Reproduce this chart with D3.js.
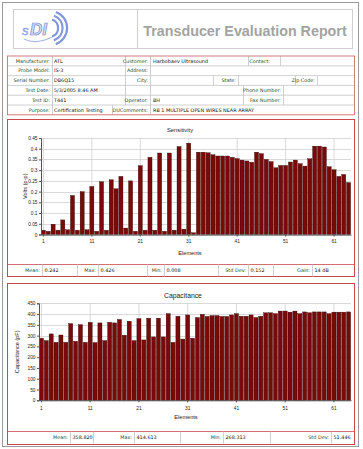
<!DOCTYPE html>
<html>
<head>
<meta charset="utf-8">
<script src="https://cdn.jsdelivr.net/npm/d3@7"></script>
<style>
body { margin: 0; background: #fff; }
svg { display: block; }
</style>
</head>
<body>
<svg id="page" width="363" height="449"></svg>
<script>
// ---- data ----
var elements = d3.range(1, 65);
var sensitivity = [0.020, 0.015, 0.048, 0.020, 0.068, 0.022, 0.182, 0.020, 0.200, 0.022,
    0.224, 0.015, 0.246, 0.020, 0.255, 0.213, 0.271, 0.030, 0.250, 0.015,
    0.321, 0.020, 0.360, 0.020, 0.380, 0.015, 0.380, 0.020, 0.410, 0.025,
    0.426, 0.008, 0.384, 0.384, 0.381, 0.372, 0.366, 0.366, 0.366, 0.360,
    0.354, 0.347, 0.343, 0.337, 0.384, 0.377, 0.350, 0.340, 0.311, 0.322,
    0.322, 0.338, 0.347, 0.330, 0.319, 0.353, 0.412, 0.412, 0.408, 0.316,
    0.302, 0.271, 0.280, 0.242];
var capacitance = [288, 277, 308, 269, 303, 269, 356, 274, 351, 269,
    362, 268, 359, 277, 362, 359, 375, 302, 367, 277,
    379, 280, 381, 294, 381, 294, 402, 269, 390, 284,
    396, 288, 384, 399, 389, 393, 393, 389, 389, 396,
    402, 390, 390, 396, 384, 390, 406, 406, 402, 414,
    414, 409, 414, 402, 410, 406, 410, 410, 410, 402,
    409, 409, 409, 410];
var sensTicks = [0, 0.05, 0.1, 0.15, 0.2, 0.25, 0.3, 0.35, 0.4, 0.45];
var capTicks = [0, 50, 100, 150, 200, 250, 300, 350, 400, 450];
var elementTicks = [1, 11, 21, 31, 41, 51, 61];

var infoLabels = ["Manufacturer:", "Customer:", "Contact:", "Probe Model:", "Address:",
    "Serial Number:", "City:", "State:", "Zip Code:", "Test Date:", "Phone Number:",
    "Test ID:", "Operator:", "Fax Number:", "Purpose:", "DUComments:"];
var infoValues = ["ATL", "Harbobaev Ultrasound", "", "IS-3", "", "DB6Q15", "", "", "",
    "5/3/2005 8:46 AM", "", "T441", "BH", "", "Certification Testing",
    "RB 1 MULTIPLE OPEN WIRES NEAR ARRAY"];

var sensStatLabels = ["Mean:", "Max:", "Min:", "Std Dev:", "Gain:"];
var sensStatValues = ["0.242", "0.426", "0.008", "0.152", "14 dB"];
var capStatLabels = ["Mean:", "Max:", "Min:", "Std Dev:"];
var capStatValues = ["358.820", "414.613", "268.313", "51.446"];

// ---- drawing ----
var svg = d3.select("#page");
var RED = "#c9474d", GRID = "#cfcfcf", CELL = "#c4c4c4", LABEL = "#24502a";
var FONT = "Liberation Sans, Arial, sans-serif";
var FORM = "DejaVu Sans, Verdana, sans-serif";

// page frame
svg.append("rect").attr("x", 2.5).attr("y", 2.5).attr("width", 356).attr("height", 444)
    .style("fill", "none").style("stroke", "#9a9a9a");

// header box with logo and title
svg.append("rect").attr("x", 13.5).attr("y", 9.5).attr("width", 339).attr("height", 39)
    .style("fill", "none").style("stroke", "#d0d0d0");
svg.append("line").attr("x1", 137.5).attr("x2", 137.5).attr("y1", 9.5).attr("y2", 48.5)
    .style("stroke", "#d0d0d0");
var logo = svg.append("g").attr("transform", "translate(22,13)");
logo.append("text").attr("x", 0).attr("y", 22).text("s")
    .style("font", "italic 13px " + FONT).style("fill", "#c5cff0").style("stroke", "#7f93d6").style("stroke-width", 0.5);
logo.append("text").attr("x", 8).attr("y", 22).text("DI")
    .style("font", "italic bold 17px " + FONT).style("fill", "#d6ddf5").style("stroke", "#6f86cf").style("stroke-width", 0.7);
[0, 1, 2].forEach(function (i) {
    var r = 8 + i * 4;
    logo.append("path")
        .attr("d", d3.arc()({innerRadius: r, outerRadius: r + 2.2, startAngle: 0.35, endAngle: 2.8}))
        .attr("transform", "translate(" + (27 + i * 0.5) + ",15)")
        .style("fill", "#8298dc");
});
logo.append("path").attr("d", "M2,26 Q14,32 30,24").style("fill", "none")
    .style("stroke", "#a9b7e6").style("stroke-width", 1.2);
svg.append("text").attr("x", 245).attr("y", 35.5).attr("text-anchor", "middle")
    .text("Transducer Evaluation Report")
    .style("font", "bold 14.3px " + FONT).style("fill", "#a3a3a3");

// info table
var tTop = 56, rowH = 9.8, tLeft = 7.5, tRight = 354.5;
// per row: dividers, then [field, labelEnd, valueStart]
var infoLayout = [
    {div: [52, 125, 150, 248, 280], cells: [[0, 50, 54], [1, 148, 153], [2, 270, 283]]},
    {div: [52, 125, 150], cells: [[3, 50, 54], [4, 148, 153]]},
    {div: [52, 125, 150, 213, 238, 295, 317], cells: [[5, 50, 54], [6, 148, 153], [7, 236, 240], [8, 315, 319]]},
    {div: [52, 125, 150, 243, 283], cells: [[9, 50, 54], [10, 281, 285]]},
    {div: [52, 125, 150, 243, 283], cells: [[11, 50, 54], [12, 148, 153], [13, 281, 285]]},
    {div: [52, 112, 150], cells: [[14, 50, 54], [15, 148, 153]]}
];
var table = svg.append("g").attr("class", "info");
infoLayout.forEach(function (row, r) {
    var y0 = tTop + r * rowH;
    row.div.forEach(function (x) {
        table.append("line").attr("x1", x + 0.5).attr("x2", x + 0.5).attr("y1", y0).attr("y2", y0 + rowH)
            .style("stroke", CELL).style("stroke-width", 0.8);
    });
    if (r > 0) table.append("line").attr("x1", tLeft).attr("x2", tRight).attr("y1", y0).attr("y2", y0)
        .style("stroke", CELL).style("stroke-width", 0.8);
    row.cells.forEach(function (c) {
        table.append("text").attr("x", c[1]).attr("y", y0 + 6.6).attr("text-anchor", "end")
            .text(infoLabels[c[0]]).style("font", "4.9px " + FORM).style("fill", LABEL);
        table.append("text").attr("x", c[2]).attr("y", y0 + 6.6)
            .text(infoValues[c[0]]).style("font", "4.9px " + FORM).style("fill", "#111");
    });
});
table.append("rect").attr("x", tLeft).attr("y", tTop).attr("width", tRight - tLeft).attr("height", rowH * 6)
    .style("fill", "none").style("stroke", "#d77a80").style("stroke-width", 1);

// stats row under a chart
function statsRow(y0, h, labels, values, cells) {
    var g = svg.append("g");
    g.append("line").attr("x1", tLeft).attr("x2", tRight).attr("y1", y0).attr("y2", y0)
        .style("stroke", RED).style("stroke-width", 0.8);
    cells.forEach(function (c, i) {
        // c = [start, split, end]
        [c[1], c[2]].forEach(function (x) {
            if (x < tRight - 1) g.append("line").attr("x1", x + 0.5).attr("x2", x + 0.5)
                .attr("y1", y0).attr("y2", y0 + h).style("stroke", CELL).style("stroke-width", 0.8);
        });
        g.append("text").attr("x", c[1] - 2).attr("y", y0 + h / 2 + 1.8).attr("text-anchor", "end")
            .text(labels[i]).style("font", "4.9px " + FORM).style("fill", LABEL);
        g.append("text").attr("x", c[1] + 2.5).attr("y", y0 + h / 2 + 1.8)
            .text(values[i]).style("font", "4.9px " + FORM).style("fill", "#111");
    });
}

function barChart(o) {
    var g = svg.append("g");
    var x = d3.scaleBand().domain(elements).range([o.left, o.right]).paddingInner(0.16).paddingOuter(0.08);
    var y = d3.scaleLinear().domain([0, o.max]).range([o.bottom, o.top]);

    // gridlines
    g.selectAll(".hgrid").data(o.ticks).enter().append("line")
        .attr("x1", o.left).attr("x2", o.right)
        .attr("y1", function (d) { return Math.round(y(d)) + 0.5; })
        .attr("y2", function (d) { return Math.round(y(d)) + 0.5; })
        .style("stroke", GRID).style("stroke-width", 0.8);
    g.selectAll(".vgrid").data(elementTicks).enter().append("line")
        .attr("x1", function (d) { return x(d) + x.bandwidth() / 2; })
        .attr("x2", function (d) { return x(d) + x.bandwidth() / 2; })
        .attr("y1", o.top).attr("y2", o.bottom + 2)
        .style("stroke", GRID).style("stroke-width", 0.8);

    // bars
    g.selectAll(".bar").data(o.values).enter().append("rect")
        .attr("x", function (d, i) { return x(elements[i]); })
        .attr("y", function (d) { return y(d); })
        .attr("width", x.bandwidth())
        .attr("height", function (d) { return o.bottom - y(d); })
        .style("fill", "#7a0a0a").style("stroke", "#2a0000").style("stroke-width", 0.35);

    // axes
    var ya = d3.axisLeft(y).tickValues(o.ticks).tickSize(2).tickFormat(d3.format(".2~f"));
    g.append("g").attr("transform", "translate(" + o.left + ",0)").call(ya)
        .call(function (s) {
            s.select(".domain").style("stroke", "#555");
            s.selectAll(".tick line").style("stroke", "#555");
            s.selectAll("text").style("font", "4.8px " + FONT).style("fill", "#222").attr("x", -3.5);
        });
    var xa = d3.axisBottom(x).tickValues(elementTicks).tickSize(2).tickSizeOuter(0);
    g.append("g").attr("transform", "translate(0," + o.bottom + ")").call(xa)
        .call(function (s) {
            s.select(".domain").style("stroke", "#555");
            s.selectAll(".tick line").style("stroke", "#555");
            s.selectAll("text").style("font", "4.8px " + FONT).style("fill", "#222").attr("y", o.tickDy);
        });

    g.append("text").attr("x", o.titleX).attr("y", o.titleY).attr("text-anchor", "middle")
        .text(o.title).style("font", o.titleSize + "px " + FONT).style("fill", "#222");
    g.append("text").attr("x", o.xTitleX).attr("y", o.xTitleY).attr("text-anchor", "middle")
        .text("Elements").style("font", "5.6px " + FONT).style("fill", "#222");
    g.append("text").attr("transform", "translate(" + o.yTitleX + "," + ((o.top + o.bottom) / 2) + ") rotate(-90)")
        .attr("text-anchor", "middle").text(o.yTitle).style("font", "5.6px " + FONT).style("fill", "#222");
}

// sensitivity panel
svg.append("rect").attr("x", tLeft).attr("y", 119.5).attr("width", tRight - tLeft).attr("height", 157)
    .style("fill", "none").style("stroke", RED).style("stroke-width", 1);
barChart({values: sensitivity, ticks: sensTicks, max: 0.45, left: 41, right: 351, top: 138, bottom: 234.5,
    title: "Sensitivity", titleX: 180, titleY: 132, titleSize: 5.8, tickDy: 5.5,
    xTitleX: 190, xTitleY: 255, yTitle: "Volts (p-p)", yTitleX: 27});
statsRow(264.5, 12, sensStatLabels, sensStatValues,
    [[7, 42, 77], [77, 98, 147], [147, 164, 218], [218, 248, 273], [273, 312, 355]]);

// capacitance panel
svg.append("rect").attr("x", tLeft).attr("y", 283.5).attr("width", tRight - tLeft).attr("height", 161)
    .style("fill", "none").style("stroke", RED).style("stroke-width", 1);
barChart({values: capacitance, ticks: capTicks, max: 450, left: 39, right: 351, top: 303.3, bottom: 400.3,
    title: "Capacitance", titleX: 183, titleY: 298, titleSize: 6.8, tickDy: 6,
    xTitleX: 186, xTitleY: 419, yTitle: "Capacitance (pF)", yTitleX: 19});
statsRow(431.5, 12, capStatLabels, capStatValues,
    [[7, 70, 93], [93, 134, 180], [180, 223, 270], [270, 331, 355]]);
</script>
</body>
</html>
